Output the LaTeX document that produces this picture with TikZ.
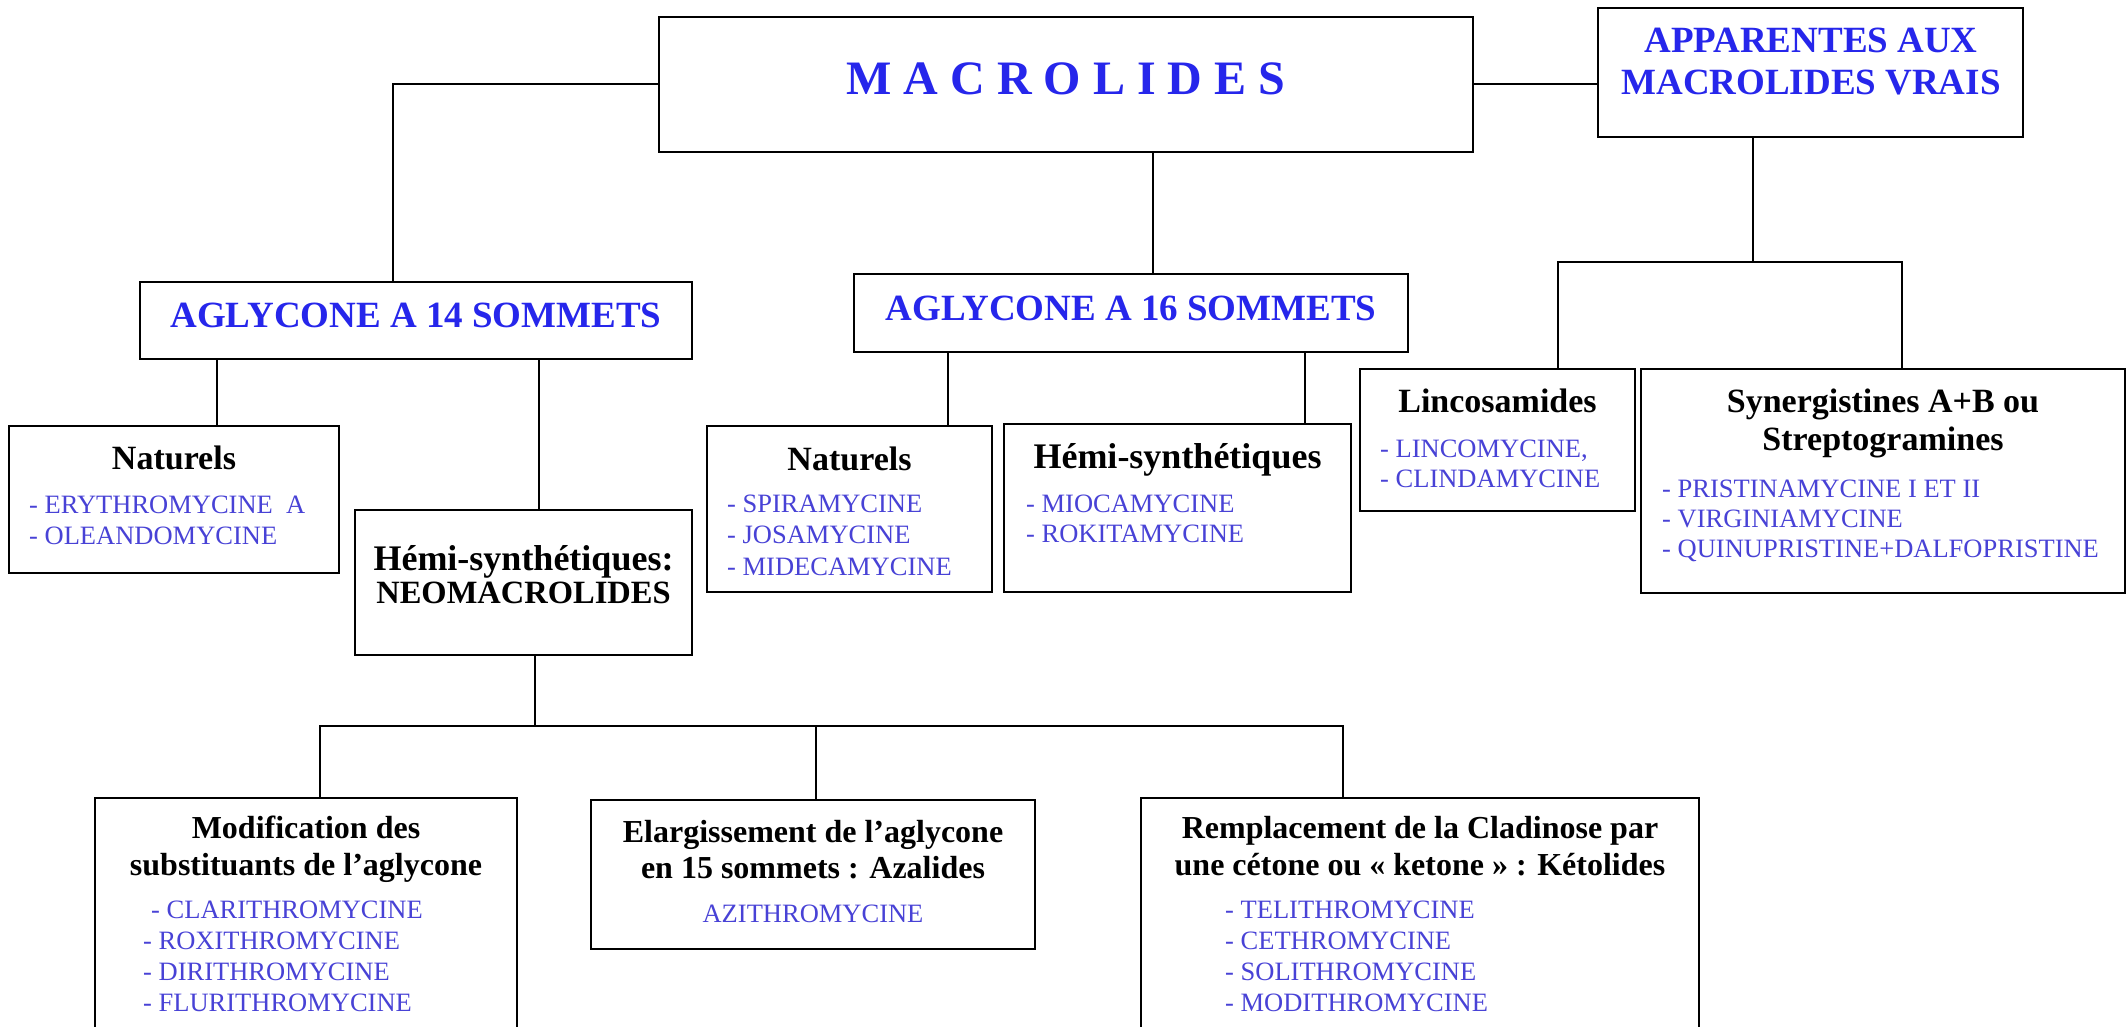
\documentclass[tikz,border=0pt]{standalone}
\usepackage{fontspec}
\setmainfont{Liberation Serif}
\definecolor{hblue}{RGB}{38,38,235}
\definecolor{dblue}{RGB}{72,66,214}
\tikzset{
  box/.style={draw, line width=2.8pt, rectangle, inner sep=0pt},
  con/.style={line width=2pt},
  htitle/.style={font=\bfseries\fontsize{37}{42}\selectfont, text=hblue, anchor=base, inner sep=0pt},
  stitle/.style={font=\bfseries\fontsize{34}{38}\selectfont, anchor=base, inner sep=0pt},
  btitle/.style={font=\bfseries\fontsize{32}{36}\selectfont, anchor=base, inner sep=0pt},
  drug/.style={font=\fontsize{26.5}{31}\selectfont, text=dblue, anchor=base west, inner sep=0pt},
}
\begin{document}
\begin{tikzpicture}[x=1pt,y=-1pt]
\useasboundingbox (0,0) rectangle (2127,1027);
\clip (0,0) rectangle (2127,1027);
\fill[white] (0,0) rectangle (2127,1027);

% boxes
\node[box, minimum width=814pt, minimum height=135pt] (macro) at (1066,84.5) {};
\node[box, minimum width=425pt, minimum height=129pt] (app) at (1810.5,72.5) {};
\node[box, minimum width=552pt, minimum height=77pt] (ag14) at (416,320.5) {};
\node[box, minimum width=554pt, minimum height=78pt] (ag16) at (1131,313) {};
\node[box, minimum width=330pt, minimum height=147pt] (nat14) at (174,499.5) {};
\node[box, minimum width=337pt, minimum height=145pt] (hemi14) at (523.5,582.5) {};
\node[box, minimum width=285pt, minimum height=166pt] (nat16) at (849.5,509) {};
\node[box, minimum width=347pt, minimum height=168pt] (hemi16) at (1177.5,508) {};
\node[box, minimum width=275pt, minimum height=142pt] (linco) at (1497.5,440) {};
\node[box, minimum width=484pt, minimum height=224pt] (syner) at (1883,481) {};
\node[box, minimum width=422pt, minimum height=262pt] (modif) at (306,929) {};
\node[box, minimum width=444pt, minimum height=149pt] (elarg) at (813,874.5) {};
\node[box, minimum width=558pt, minimum height=262pt] (rempl) at (1420,929) {};

% junctions
\coordinate (appj) at (1753,262);
\coordinate (nj) at (535,726);

% connectors
\draw[con] (macro.west) -| ([xshift=-23pt]ag14.north);
\draw[con] (macro.east) -- (macro.east -| app.west);
\draw[con] ([xshift=87pt]macro.south) -- ([xshift=87pt]macro.south |- ag16.north);
\draw[con] (app.south -| appj) -- (appj);
\draw[con] ([xshift=60.5pt]linco.north) |- (appj) -| ([xshift=19pt]syner.north);
\draw[con] ([xshift=43pt]nat14.north) -- ([xshift=43pt]nat14.north |- ag14.south);
\draw[con] ([xshift=15.5pt]hemi14.north) -- ([xshift=15.5pt]hemi14.north |- ag14.south);
\draw[con] ([xshift=98.5pt]nat16.north) -- ([xshift=98.5pt]nat16.north |- ag16.south);
\draw[con] ([xshift=127.5pt]hemi16.north) -- ([xshift=127.5pt]hemi16.north |- ag16.south);
\draw[con] (hemi14.south -| nj) -- (nj);
\draw[con] ([xshift=14pt]modif.north) |- (nj) -| ([xshift=-77pt]rempl.north);
\draw[con] ([xshift=3pt]elarg.north) -- ([xshift=3pt]elarg.north |- nj);

% texts
\node[htitle, font=\bfseries\fontsize{48}{50}\selectfont] (tmacro) at (1066,95) {M A C R O L I D E S};
\node[htitle] (tapp1) at (1811,53) {APPARENTES AUX};
\node[htitle] (tapp2) at (1811,95) {MACROLIDES VRAIS};
\node[htitle] (tag14) at (416,327) {AGLYCONE A 14 SOMMETS};
\node[htitle] (tag16) at (1131,320) {AGLYCONE A 16 SOMMETS};

\node[stitle] (tnat14) at (174,469) {Naturels};
\node[drug] (d1) at (29,513) {- ERYTHROMYCINE\ \ A};
\node[drug] (d2) at (29,544) {- OLEANDOMYCINE};

\node[stitle, font=\bfseries\fontsize{36}{40}\selectfont] (themi14a) at (523.5,570) {Hémi-synthétiques:};
\node[stitle, font=\bfseries\fontsize{32.5}{36}\selectfont] (themi14b) at (523.5,603) {NEOMACROLIDES};

\node[stitle] (tnat16) at (849.5,470) {Naturels};
\node[drug] (d3) at (727,512) {- SPIRAMYCINE};
\node[drug] (d4) at (727,543) {- JOSAMYCINE};
\node[drug] (d5) at (727,575) {- MIDECAMYCINE};

\node[stitle, font=\bfseries\fontsize{36}{40}\selectfont] (themi16) at (1177.5,468) {Hémi-synthétiques};
\node[drug] (d6) at (1026,512) {- MIOCAMYCINE};
\node[drug] (d7) at (1026,542) {- ROKITAMYCINE};

\node[stitle] (tlinco) at (1497.5,412) {Lincosamides};
\node[drug] (d8) at (1380,457) {- LINCOMYCINE,};
\node[drug] (d9) at (1380,487) {- CLINDAMYCINE};

\node[stitle] (tsyn1) at (1883,412) {Synergistines A+B ou};
\node[stitle] (tsyn2) at (1883,450) {Streptogramines};
\node[drug] (d10) at (1662,497) {- PRISTINAMYCINE I ET II};
\node[drug] (d11) at (1662,527) {- VIRGINIAMYCINE};
\node[drug] (d12) at (1662,557) {- QUINUPRISTINE+DALFOPRISTINE};

\node[btitle] (tmod1) at (306,838) {Modification des};
\node[btitle] (tmod2) at (306,875) {substituants de l’aglycone};
\node[drug] (d13) at (151,918) {- CLARITHROMYCINE};
\node[drug] (d14) at (143,949) {- ROXITHROMYCINE};
\node[drug] (d15) at (143,980) {- DIRITHROMYCINE};
\node[drug] (d16) at (143,1011) {- FLURITHROMYCINE};

\node[btitle] (tel1) at (813,842) {Elargissement de l’aglycone};
\node[btitle] (tel2) at (813,878) {en 15 sommets : Azalides};
\node[drug, anchor=base] (d17) at (813,922) {AZITHROMYCINE};

\node[btitle] (trem1) at (1420,838) {Remplacement de la Cladinose par};
\node[btitle] (trem2) at (1420,875) {une cétone ou « ketone » : Kétolides};
\node[drug] (d18) at (1225,918) {- TELITHROMYCINE};
\node[drug] (d19) at (1225,949) {- CETHROMYCINE};
\node[drug] (d20) at (1225,980) {- SOLITHROMYCINE};
\node[drug] (d21) at (1225,1011) {- MODITHROMYCINE};
\end{tikzpicture}
\end{document}
